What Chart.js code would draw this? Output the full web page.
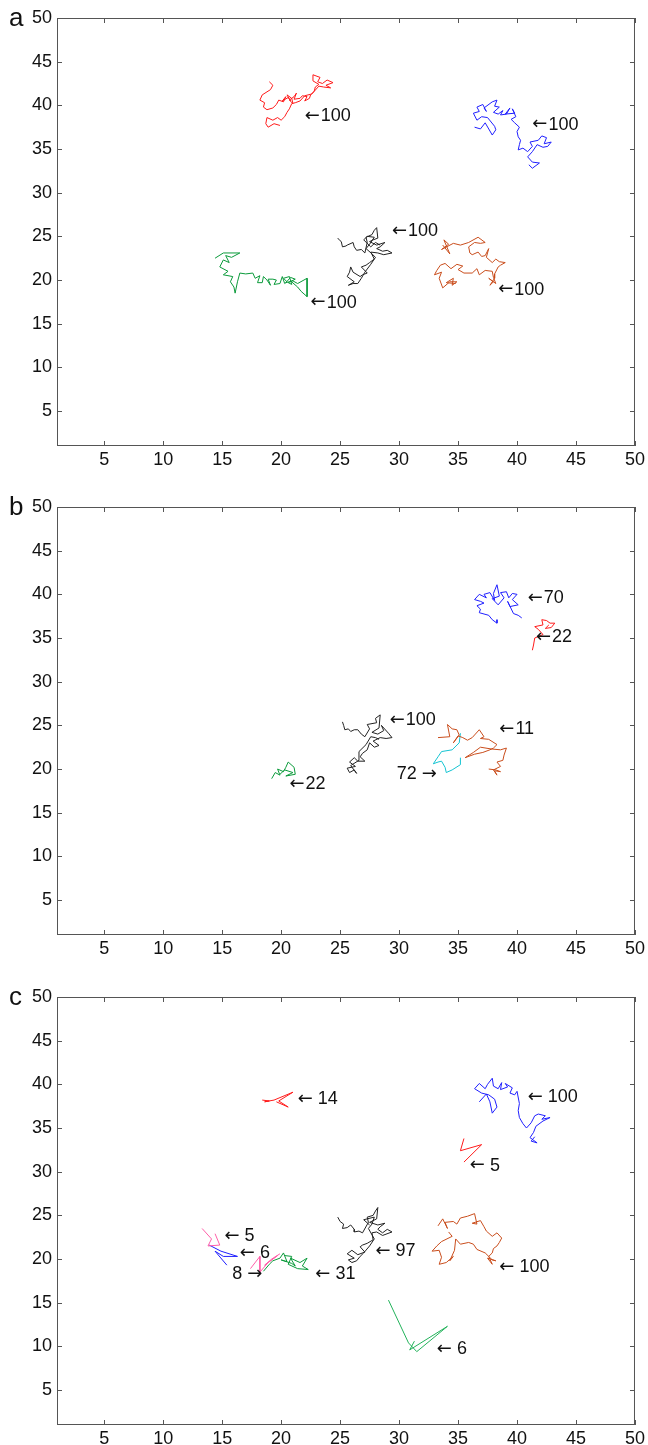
<!DOCTYPE html>
<html>
<head>
<meta charset="utf-8">
<script src="https://cdn.jsdelivr.net/npm/chart.js@4.4.1/dist/chart.umd.min.js"></script>
<style>
  body { margin: 0; background: #fff; width: 648px; height: 1445px; overflow: hidden; }
  .panel { position: absolute; left: 0; width: 648px; height: 490px; }
</style>
</head>
<body>
<div class="panel" style="top:0px"><canvas id="chartA" width="648" height="490"></canvas></div>
<div class="panel" style="top:489px"><canvas id="chartB" width="648" height="490"></canvas></div>
<div class="panel" style="top:979px"><canvas id="chartC" width="648" height="490"></canvas></div>
<script>
const TICKS = [5, 10, 15, 20, 25, 30, 35, 40, 45, 50];

// panel a
const redA = [[19.0,42.7],[19.3,42.3],[19.1,41.8],[18.4,41.2],[18.2,40.6],[18.6,40.3],[18.5,39.8],[18.8,39.5],[19.3,39.7],[19.6,40.1],[19.8,40.6],[20.2,40.4],[20.4,41.0],[20.1,40.5],[20.6,40.9],[20.8,40.5],[20.5,41.2],[20.9,40.8],[21.0,40.2],[20.7,40.6],[21.1,41.0],[21.3,41.4],[21.1,40.7],[21.6,40.8],[21.8,41.1],[22.2,41.0],[22.0,40.5],[22.4,40.8],[22.5,41.2],[22.8,41.6],[22.9,42.1],[23.2,42.4],[22.7,42.8],[22.7,43.5],[23.3,43.2],[23.1,42.7],[23.5,42.5],[23.9,42.9],[24.4,42.6],[23.8,42.3],[24.2,42.0],[23.6,42.1],[23.2,42.2],[22.6,41.3],[22.0,41.1],[21.6,40.5],[21.2,40.3],[20.9,40.2],[20.7,39.6],[20.5,39.2],[20.3,38.7],[20.0,38.3],[19.7,38.6],[19.3,38.3],[18.8,38.6],[18.7,37.9],[18.9,37.5],[19.4,37.9],[19.9,37.7]];
const blueA = [[36.4,37.5],[36.9,37.3],[37.3,38.0],[37.9,36.6],[38.2,37.2],[38.1,37.6],[37.5,38.6],[37.0,38.7],[36.6,38.3],[36.3,39.1],[36.8,39.3],[36.6,39.8],[37.1,40.1],[37.4,39.3],[37.2,39.7],[37.9,40.4],[38.3,40.6],[38.1,39.9],[38.5,39.8],[38.0,39.2],[38.4,39.0],[38.8,39.4],[38.6,38.9],[39.1,39.0],[39.4,39.7],[39.0,39.0],[39.8,39.1],[39.6,39.6],[39.9,38.7],[39.5,38.4],[39.8,38.0],[40.2,37.5],[40.0,37.0],[40.1,36.4],[40.3,36.0],[40.2,35.5],[40.1,34.9],[40.5,35.1],[40.9,34.7],[41.3,35.3],[41.1,35.8],[41.8,36.0],[42.1,36.5],[42.5,36.3],[42.3,35.6],[42.9,35.8],[42.6,35.3],[42.2,35.2],[41.7,35.5],[41.3,34.7],[40.9,34.1],[41.3,33.5],[41.9,33.4],[41.3,32.8],[41.0,33.2]];
const greenA = [[14.4,22.5],[15.1,23.1],[16.5,23.1],[15.8,22.6],[15.3,22.8],[15.6,22.0],[15.1,22.3],[14.8,21.5],[15.5,21.0],[15.1,20.6],[15.9,20.4],[15.7,19.8],[16.0,19.2],[16.1,18.5],[16.3,19.8],[16.5,20.8],[17.0,20.7],[17.6,20.8],[17.8,20.2],[18.2,20.5],[18.0,19.7],[18.4,19.7],[18.5,20.4],[18.8,20.0],[19.1,19.4],[18.9,20.1],[19.3,20.1],[19.6,20.0],[19.4,19.5],[19.9,19.6],[20.1,20.4],[20.3,19.6],[20.5,19.8],[20.2,20.2],[20.7,20.4],[20.9,19.5],[20.6,19.7],[21.2,20.1],[20.8,20.3],[20.4,19.7],[21.0,19.9],[21.4,19.6],[22.2,20.2],[22.2,18.1],[21.7,18.7],[21.4,19.2],[20.8,19.9]];
const blackA = [[24.8,24.8],[25.0,24.5],[25.1,24.4],[25.2,23.8],[25.5,23.9],[25.6,24.0],[26.1,24.3],[26.2,23.8],[26.4,23.4],[26.8,23.5],[27.1,23.1],[27.3,24.3],[27.2,24.9],[27.7,25.2],[27.9,25.7],[28.1,26.0],[28.2,24.8],[27.8,24.6],[27.5,24.4],[28.1,24.0],[28.8,24.3],[28.4,23.8],[28.1,23.6],[28.6,23.3],[29.0,23.4],[29.4,23.1],[28.7,22.9],[28.2,23.1],[27.6,23.2],[27.9,22.4],[27.5,22.0],[27.2,21.7],[26.8,21.5],[27.3,20.8],[26.9,20.6],[26.7,20.4],[26.1,20.9],[25.9,21.5],[25.8,20.9],[25.6,20.4],[26.2,19.8],[25.7,19.4],[26.1,19.6],[26.5,19.6],[26.8,20.2],[27.1,20.9],[27.6,21.8],[28.0,22.6],[27.7,23.0],[27.2,23.6],[27.5,24.1],[27.9,24.9],[27.3,25.0],[27.0,24.6],[27.6,23.8],[28.0,24.3],[28.4,24.0]];
const orangeA = [[33.7,24.0],[34.3,23.0],[33.8,24.6],[34.2,24.1],[33.6,23.5],[34.6,24.2],[35.2,24.0],[35.9,24.3],[36.7,24.9],[37.3,24.3],[36.9,24.2],[36.4,24.3],[35.9,23.8],[36.0,23.1],[36.2,22.9],[36.7,23.2],[37.0,22.7],[37.3,22.8],[37.6,23.6],[37.4,22.6],[37.9,22.0],[38.2,22.4],[38.5,22.1],[39.0,22.0],[38.6,21.7],[38.4,21.5],[38.1,20.7],[38.1,20.2],[37.7,19.4],[38.0,19.8],[37.6,20.2],[38.2,19.6],[38.0,20.3],[37.9,21.0],[37.3,21.1],[36.8,20.6],[36.6,21.3],[36.2,20.8],[35.5,20.8],[35.0,21.2],[35.4,21.6],[34.9,21.8],[34.4,21.3],[33.9,21.9],[33.5,21.7],[33.2,21.1],[33.0,20.6],[33.6,20.9],[33.4,20.2],[33.7,19.1],[34.3,19.8],[34.9,19.8],[34.5,19.4],[34.6,20.2],[34.0,19.7],[34.8,19.6]];

// panel b
const blueB = [[38.3,37.1],[38.3,36.7],[37.9,37.1],[37.6,37.6],[36.8,37.9],[36.9,38.3],[36.6,38.7],[37.2,39.0],[36.9,39.2],[36.4,39.4],[36.6,39.7],[36.8,40.0],[37.4,39.6],[37.2,40.0],[37.7,40.2],[38.1,39.3],[38.0,40.1],[38.3,41.1],[38.5,39.8],[37.9,39.5],[38.4,38.8],[38.9,39.6],[38.6,40.2],[39.1,40.3],[39.3,39.6],[39.6,40.1],[40.0,40.0],[39.6,39.4],[40.1,38.8],[39.4,38.6],[39.2,39.2],[39.7,37.8],[40.1,37.6],[40.4,37.3]];
const redB = [[41.3,33.6],[41.4,34.2],[41.5,35.0],[42.2,35.4],[41.8,36.0],[41.5,36.3],[42.2,36.5],[42.1,37.1],[42.5,37.0],[42.8,36.7],[43.2,36.7],[42.9,36.2],[42.4,36.1],[42.7,36.5]];
const blackB = [[25.2,25.4],[25.3,25.0],[25.4,24.5],[25.7,24.6],[25.9,24.3],[26.2,24.5],[26.5,24.5],[26.8,24.0],[27.1,23.7],[27.5,24.6],[27.3,25.1],[28.1,25.3],[28.0,25.8],[28.4,26.2],[28.3,24.7],[27.7,24.2],[28.2,24.0],[28.7,24.4],[28.5,25.0],[29.1,24.1],[29.4,23.6],[28.9,23.5],[28.4,23.6],[27.8,23.2],[28.3,22.7],[27.9,22.5],[27.5,23.0],[27.3,22.2],[26.9,21.8],[26.7,21.4],[27.1,20.9],[26.5,20.9],[26.2,21.3],[25.8,20.8],[26.3,20.3],[25.6,20.1],[25.8,19.6],[26.2,19.9],[26.4,19.5],[25.9,20.4],[26.6,21.0],[26.6,22.0],[27.2,22.8],[27.6,23.7],[28.0,23.6],[28.3,23.4]];
const orangeB = [[33.3,23.6],[34.3,23.7],[34.1,25.1],[34.5,24.6],[34.9,24.5],[35.1,23.9],[34.6,23.0],[35.0,23.8],[35.4,23.6],[35.8,23.3],[36.2,23.6],[36.4,23.9],[36.8,24.5],[37.2,23.7],[36.9,23.5],[37.6,23.4],[38.3,22.8],[38.0,22.4],[37.7,22.2],[37.1,21.9],[36.4,21.7],[35.6,21.3],[36.3,21.9],[36.9,22.5],[37.8,22.3],[38.6,22.2],[39.1,22.4],[38.9,21.6],[38.8,21.0],[38.3,20.8],[38.6,20.3],[38.0,19.9],[38.3,19.3],[38.1,19.8],[38.6,19.7],[38.2,19.9],[37.6,20.0]];
const cyanB = [[35.2,24.1],[35.1,23.0],[34.5,22.2],[33.6,22.0],[33.3,21.4],[32.9,20.6],[33.3,20.8],[33.6,20.9],[33.9,20.2],[34.0,19.6],[34.5,19.9],[35.2,20.5],[35.2,21.3]];
const greenB = [[19.2,18.9],[19.5,19.6],[19.9,19.3],[19.7,20.0],[20.2,19.7],[20.4,20.2],[20.6,20.8],[21.1,20.2],[21.2,19.4],[20.4,19.2],[21.0,19.6],[20.3,19.9],[19.9,19.4]];

// panel c
const redC1 = [[18.4,38.2],[19.0,38.1],[18.6,38.0],[19.4,38.2],[21.0,39.1],[19.8,38.1],[20.6,37.4],[19.6,38.0]];
const redC2 = [[35.5,33.8],[35.2,32.4],[37.0,33.1],[35.5,31.1]];
const blueC = [[36.8,38.0],[37.4,38.9],[37.7,38.0],[37.9,36.7],[38.3,37.4],[38.1,38.3],[37.6,38.8],[37.0,39.0],[36.4,39.5],[36.8,40.1],[37.3,39.5],[37.5,40.0],[37.9,40.7],[38.0,39.8],[38.4,39.5],[38.7,40.2],[38.6,39.4],[39.2,39.7],[39.0,40.1],[39.6,39.6],[39.4,39.0],[39.8,38.8],[40.0,39.2],[40.2,37.8],[40.1,37.0],[40.2,36.2],[40.5,35.5],[40.8,35.0],[41.2,35.6],[41.5,36.4],[41.8,36.6],[42.4,36.4],[42.1,36.0],[42.8,36.2],[42.2,35.8],[41.6,35.2],[41.4,34.5],[41.1,33.9],[41.7,33.3],[41.2,33.5],[41.5,34.0]];
const orangeC = [[33.3,23.8],[33.7,24.6],[34.1,23.5],[33.9,24.2],[34.6,24.3],[34.9,24.0],[35.2,24.7],[35.8,24.9],[36.4,25.2],[36.6,24.0],[36.2,24.1],[36.9,24.4],[37.2,23.7],[37.4,23.2],[37.9,22.6],[38.3,23.0],[38.7,22.4],[38.5,21.9],[38.3,21.5],[38.0,21.2],[37.9,20.7],[37.6,20.3],[37.9,19.4],[37.5,20.1],[38.2,19.8],[37.9,19.9],[37.3,20.7],[36.6,21.1],[36.3,21.7],[35.9,21.9],[35.2,21.7],[34.8,22.3],[34.7,21.0],[34.3,19.8],[34.6,20.3],[34.0,19.6],[33.4,19.4],[33.6,20.2],[33.4,21.0],[32.8,20.9],[33.2,21.5],[33.6,22.0],[34.5,22.6],[34.2,23.1]];
const blackC = [[24.8,24.8],[25.0,24.3],[25.3,24.0],[25.2,23.5],[25.6,23.6],[25.9,23.9],[26.2,23.4],[26.2,23.1],[26.6,23.2],[26.9,23.0],[27.4,24.2],[27.3,24.8],[27.8,25.0],[28.0,25.5],[28.2,25.9],[28.1,24.6],[27.5,24.2],[28.2,23.9],[28.8,24.1],[28.4,23.7],[28.2,23.4],[28.6,23.0],[29.0,23.4],[29.4,23.1],[28.6,22.7],[28.1,23.1],[27.7,23.0],[27.8,22.2],[27.3,21.8],[26.9,21.6],[26.7,21.4],[27.1,20.8],[26.5,20.5],[26.0,21.0],[25.6,20.6],[26.2,20.1],[25.7,19.9],[26.0,19.6],[26.4,19.8],[26.7,20.3],[27.0,20.7],[27.5,21.5],[27.9,22.3],[27.4,23.5],[27.7,24.0],[27.9,24.8],[27.0,24.5],[27.5,23.9]];
const greenC = [[18.5,18.6],[19.0,19.4],[19.3,19.8],[19.9,20.1],[20.2,20.7],[20.5,19.7],[20.0,19.9],[20.9,19.5],[21.2,19.2],[20.8,20.1],[21.6,19.6],[22.2,20.1],[21.8,19.2],[22.3,18.8],[21.4,18.9],[20.6,19.4],[20.9,20.3],[20.3,20.4]];
const pinkC1 = [[13.3,23.5],[14.1,22.3],[13.8,21.5],[14.8,21.6],[14.4,22.9]];
const blueC2 = [[13.9,21.6],[14.9,20.9],[16.3,20.3],[15.1,20.3],[14.4,20.9],[15.4,19.3]];
const pinkC2 = [[17.4,18.9],[18.2,20.3],[18.2,18.5],[18.9,19.6],[19.7,20.4],[18.6,19.3],[19.2,20.0],[19.9,20.6]];
const greenC2 = [[29.1,15.3],[30.8,10.4],[31.5,9.4],[34.1,12.3],[30.9,9.6],[31.3,10.6]];

// annotation texts, anchored in data units
const notesA = [
  { num: '100', x: 22.0, y: 38.8 },
  { num: '100', x: 41.3, y: 37.8 },
  { num: '100', x: 29.4, y: 25.6 },
  { num: '100', x: 22.5, y: 17.4 },
  { num: '100', x: 38.4, y: 18.9 }
];
const notesB = [
  { num: '70', x: 40.9, y: 39.6 },
  { num: '22', x: 41.6, y: 35.1 },
  { num: '100', x: 29.2, y: 25.6 },
  { num: '11', x: 38.5, y: 24.6 },
  { num: '72', x: 33.2, y: 19.4, right: true, gap: true },
  { num: '22', x: 20.7, y: 18.3 }
];
const notesC = [
  { num: '14', x: 21.4, y: 38.3, gap: true },
  { num: '100', x: 40.9, y: 38.5, gap: true },
  { num: '5', x: 36.0, y: 30.7, gap: true },
  { num: '5', x: 15.2, y: 22.6, gap: true },
  { num: '6', x: 16.5, y: 20.7, gap: true },
  { num: '8', x: 18.4, y: 18.3, right: true, gap: true },
  { num: '31', x: 22.9, y: 18.3, gap: true },
  { num: '97', x: 28.0, y: 20.9, gap: true },
  { num: '100', x: 38.5, y: 19.1, gap: true },
  { num: '6', x: 33.2, y: 9.7, gap: true }
];

const FONT = '"Liberation Sans", Arial, Helvetica, sans-serif';
const ARROW_FONT = '18px "DejaVu Sans", sans-serif';
const NUM_FONT = '18px ' + FONT;

function drawNote(ctx, n, px, py) {
  const arrow = n.right ? '\u2192' : '\u2190';
  ctx.font = ARROW_FONT;
  const aw = ctx.measureText(arrow).width;
  ctx.font = NUM_FONT;
  const nw = ctx.measureText(n.num).width;
  const gap = n.gap ? 5 : 1;
  ctx.textAlign = 'left';
  ctx.textBaseline = 'middle';
  if (n.right) {
    ctx.fillText(n.num, px - aw - gap - nw, py);
    ctx.font = ARROW_FONT;
    ctx.fillText(arrow, px - aw, py);
  } else {
    ctx.font = ARROW_FONT;
    ctx.fillText(arrow, px, py);
    ctx.font = NUM_FONT;
    ctx.fillText(n.num, px + aw + gap, py);
  }
}

const framePlugin = {
  id: 'frame',
  afterDraw(chart, args, opts) {
    const { ctx, chartArea: a, scales: { x, y } } = chart;
    ctx.save();
    ctx.strokeStyle = '#555';
    ctx.lineWidth = 1;
    ctx.strokeRect(a.left + 0.5, a.top + 0.5, a.right - a.left - 1, a.bottom - a.top - 1);
    ctx.beginPath();
    TICKS.forEach(v => {
      const px = Math.round(x.getPixelForValue(v)) + 0.5;
      ctx.moveTo(px, a.bottom); ctx.lineTo(px, a.bottom - 5);
      ctx.moveTo(px, a.top); ctx.lineTo(px, a.top + 5);
      const py = Math.round(y.getPixelForValue(v)) + 0.5;
      ctx.moveTo(a.left, py); ctx.lineTo(a.left + 5, py);
      ctx.moveTo(a.right, py); ctx.lineTo(a.right - 5, py);
    });
    ctx.stroke();

    ctx.fillStyle = '#111';
    ctx.font = '26px ' + FONT;
    ctx.textBaseline = 'alphabetic';
    ctx.textAlign = 'left';
    ctx.fillText(opts.letter, 9, 26);

    opts.notes.forEach(n => drawNote(ctx, n, x.getPixelForValue(n.x), y.getPixelForValue(n.y)));
    ctx.restore();
  }
};

function walk(pts, color) {
  return {
    data: pts.map(p => ({ x: p[0], y: p[1] })),
    borderColor: color,
    borderWidth: 1,
    showLine: true,
    pointRadius: 0,
    tension: 0,
    fill: false
  };
}

function axis(pos) {
  return {
    type: 'linear',
    position: pos,
    min: 1,
    max: 50,
    afterBuildTicks: s => { s.ticks = TICKS.map(v => ({ value: v })); },
    afterFit: s => { if (pos === 'left') s.width = 57; else s.height = 44; },
    grid: { display: false, drawTicks: false },
    border: { display: false },
    ticks: {
      color: '#111',
      font: { family: FONT, size: 18 },
      padding: pos === 'left' ? 5 : 3,
      maxRotation: 0
    }
  };
}

function makeChart(id, letter, datasets, notes) {
  const ctx = document.getElementById(id).getContext('2d');
  return new Chart(ctx, {
    type: 'scatter',
    data: { datasets: datasets },
    options: {
      responsive: false,
      animation: false,
      layout: { padding: { top: 18, right: 4, left: 0, bottom: 0 } },
      scales: { x: axis('bottom'), y: axis('left') },
      plugins: {
        legend: { display: false },
        tooltip: { enabled: false },
        frame: { letter: letter, notes: notes }
      }
    },
    plugins: [framePlugin]
  });
}

const RED = '#ff1a1a', BLUE = '#1f1fff', GREEN = '#0a9a3a', BLACK = '#222222',
      ORANGE = '#c94d1c', CYAN = '#14c4d2', PINK = '#ff5fa8', LGREEN = '#22b25a';

makeChart('chartA', 'a', [
  walk(redA, RED), walk(blueA, BLUE), walk(greenA, GREEN), walk(blackA, BLACK), walk(orangeA, ORANGE)
], notesA);

makeChart('chartB', 'b', [
  walk(blueB, BLUE), walk(redB, RED), walk(blackB, BLACK), walk(orangeB, ORANGE), walk(cyanB, CYAN), walk(greenB, GREEN)
], notesB);

makeChart('chartC', 'c', [
  walk(redC1, RED), walk(redC2, RED), walk(blueC, BLUE), walk(orangeC, ORANGE), walk(blackC, BLACK),
  walk(greenC, GREEN), walk(pinkC1, PINK), walk(blueC2, BLUE), walk(pinkC2, PINK), walk(greenC2, LGREEN)
], notesC);
</script>
</body>
</html>
